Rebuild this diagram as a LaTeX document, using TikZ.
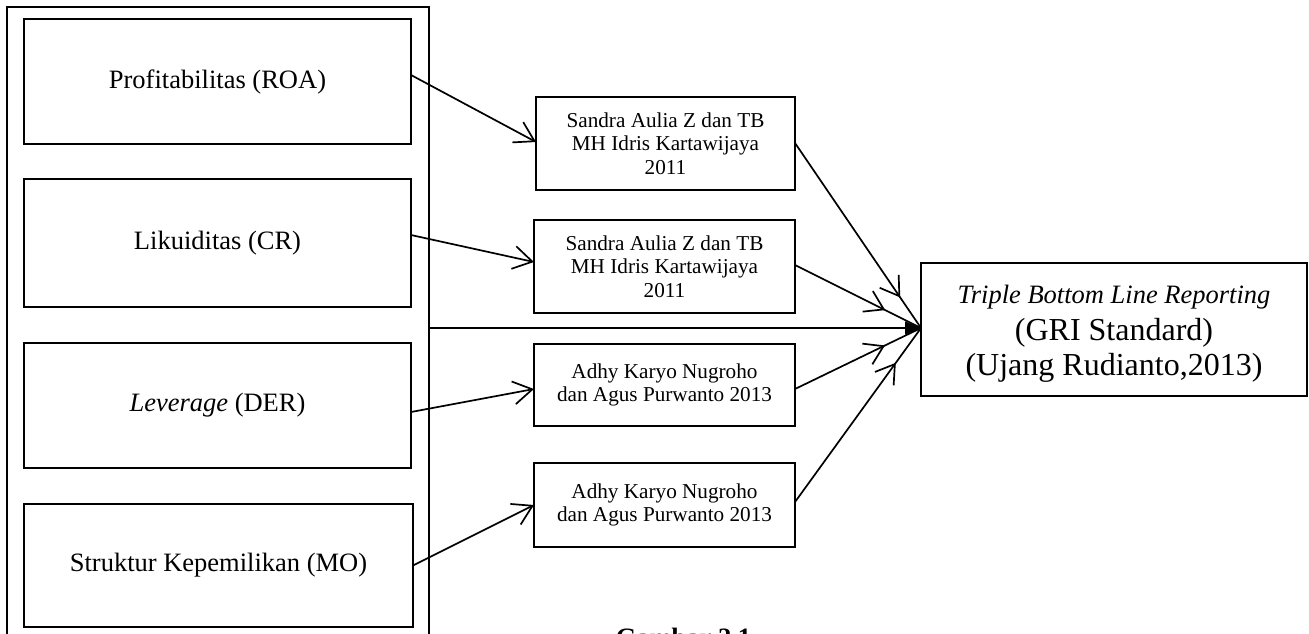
\documentclass[tikz,border=0pt]{standalone}
\usepackage{fontspec}
\setmainfont{Liberation Serif}
\usetikzlibrary{arrows.meta,decorations.markings,calc}
\begin{document}
\begin{tikzpicture}[x=1pt,y=-1pt,
  box/.style={draw,line width=1.7pt,inner sep=0pt,outer sep=0pt},
  lbox/.style={box,font=\fontsize{26.5}{30}\selectfont},
  mbox/.style={box,align=center,font=\fontsize{21.2}{23.6}\selectfont},
  conn/.style={line width=1.7pt},
  openhead/.style={-{Straight Barb[length=19pt,width=23pt]}},
  midmark/.style={postaction={decorate},decoration={markings,mark=at position #1 with {\arrow{Straight Barb[length=18pt,width=23pt]}}}}
]
\useasboundingbox (0,0) rectangle (1309,633);
\clip (0,0) rectangle (1309,633);

% outer frame
\node[box,minimum width=422pt,minimum height=693pt] (O) at (218,353.5) {};

% left boxes
\node[lbox,minimum width=387pt,minimum height=125pt] (L1) at (217.5,81.5) {Profitabilitas (ROA)};
\node[lbox,minimum width=387pt,minimum height=128pt] (L2) at (217.5,243) {Likuiditas (CR)};
\node[lbox,minimum width=387pt,minimum height=125pt] (L3) at (217.5,405.5) {\itshape Leverage\upshape{} (DER)};
\node[lbox,minimum width=389pt,minimum height=123pt] (L4) at (218.5,565.5) {Struktur Kepemilikan (MO)};

% middle boxes
\node[mbox,minimum width=259pt,minimum height=93pt] (M1) at (665.5,143.5) {Sandra Aulia Z dan TB\\MH Idris Kartawijaya\\2011};
\node[mbox,minimum width=261pt,minimum height=93pt] (M2) at (664.5,266.5) {Sandra Aulia Z dan TB\\MH Idris Kartawijaya\\2011};
\node[mbox,minimum width=261pt,minimum height=82pt] (M3) at (664.5,385) {Adhy Karyo Nugroho\\dan Agus Purwanto 2013};
\node[mbox,minimum width=261pt,minimum height=84pt] (M4) at (664.5,505) {Adhy Karyo Nugroho\\dan Agus Purwanto 2013};

% target
\node[box,minimum width=386pt,minimum height=133pt] (T) at (1114,329.5) {};
\node[font=\fontsize{26.5}{30}\selectfont\itshape,anchor=base] (t1) at (1114,303) {Triple Bottom Line Reporting};
\node[font=\fontsize{32}{36}\selectfont,anchor=base] (t2) at (1114,340) {(GRI Standard)};
\node[font=\fontsize{32}{36}\selectfont,anchor=base] (t3) at (1114,375) {(Ujang Rudianto,2013)};
\coordinate (tip) at ([yshift=1.5pt]T.west);

% caption (cut by page edge, as in the reference)
\node[font=\fontsize{26.5}{30}\selectfont\bfseries,anchor=base] (cap) at (683.5,646) {Gambar 2.1};

% left -> middle
\draw[conn,openhead] ([yshift=6.5pt]L1.east) -- ([yshift=1.5pt]M1.west);
\draw[conn,openhead] ([yshift=8pt]L2.east) -- ([yshift=4.5pt]M2.west);
\draw[conn,openhead] ([yshift=-6.5pt]L3.east) -- ([yshift=-4pt]M3.west);
\draw[conn,openhead] (L4.east) -- (M4.west);

% middle -> target
\draw[conn,midmark=0.835] ([yshift=0.5pt]M1.east) -- (tip);
\draw[conn,midmark=0.716] ([yshift=1.5pt]M2.east) -- (tip);
\draw[conn,midmark=0.714] ([yshift=-4pt]M3.east) -- (tip);
\draw[conn,midmark=0.80] ([yshift=3pt]M4.east) -- (tip);

% frame -> target
\draw[conn,-{Triangle[length=16pt,width=13pt]}] (O.east |- tip) -- (tip);
\end{tikzpicture}
\end{document}
